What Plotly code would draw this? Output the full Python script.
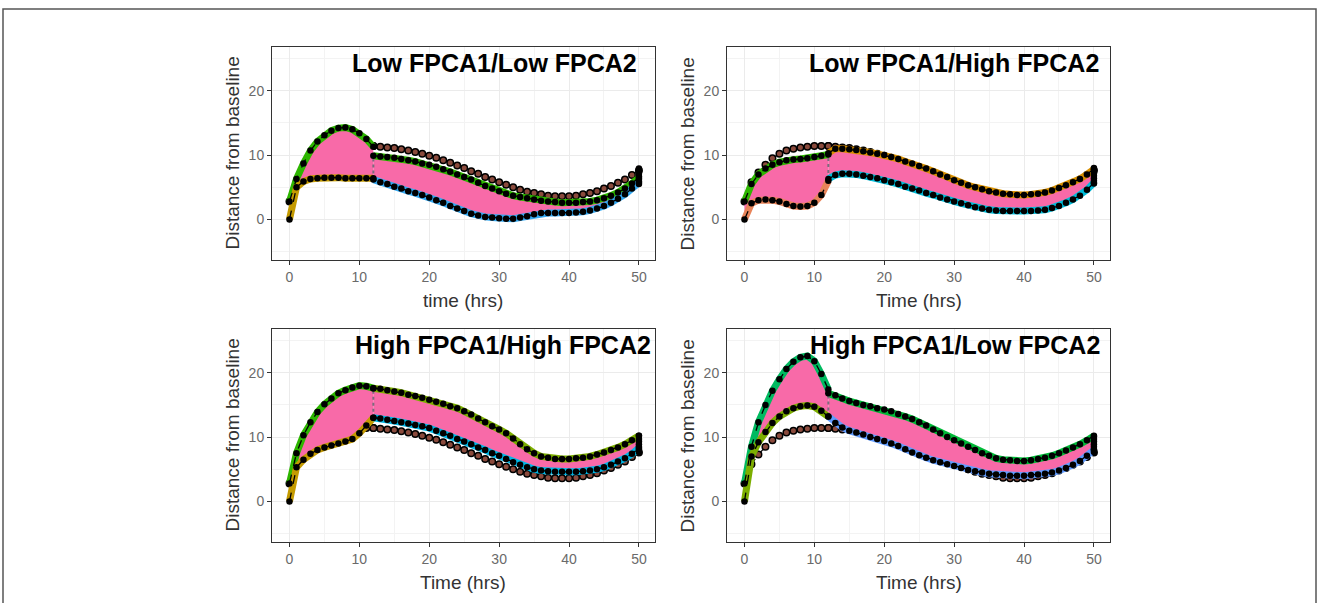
import plotly.graph_objects as go

# ---------------- data ----------------
t_phase1 = list(range(0, 13))          # 0..12 h
t_phase2 = list(range(12, 51))         # 12..50 h

mean_p1 = [2.8, 5.8, 7.3, 8.5, 9.5, 10.2, 10.7, 11.0, 11.2, 11.3, 11.4, 11.4, 11.4]
mean_p2 = [11.4, 11.3, 11.2, 11.1, 10.9, 10.7, 10.5, 10.2, 9.9, 9.6, 9.2, 8.8, 8.4, 8.0, 7.5,
           7.1, 6.6, 6.2, 5.8, 5.4, 5.0, 4.6, 4.3, 4.1, 3.9, 3.7, 3.6, 3.6, 3.6, 3.7, 3.9, 4.1,
           4.4, 4.8, 5.2, 5.7, 6.2, 6.9, 7.6]

# Low FPCA1 / Low FPCA2
ll_up1 = [2.8, 6.3, 8.7, 10.7, 12.1, 13.1, 13.8, 14.2, 14.3, 14.0, 13.4, 12.5, 11.3]
ll_lo1 = [0.0, 5.0, 5.9, 6.3, 6.4, 6.5, 6.5, 6.5, 6.4, 6.4, 6.4, 6.4, 6.4]
ll_up2 = [9.9, 9.8, 9.7, 9.6, 9.4, 9.2, 9.0, 8.7, 8.5, 8.2, 7.8, 7.4, 7.0, 6.6, 6.2, 5.7, 5.2,
          4.8, 4.4, 4.0, 3.7, 3.5, 3.3, 3.1, 2.9, 2.8, 2.7, 2.6, 2.6, 2.6, 2.7, 2.8, 3.0, 3.3,
          3.7, 4.2, 4.8, 5.6, 6.5]
ll_lo2 = [6.2, 5.8, 5.5, 5.1, 4.8, 4.4, 4.1, 3.8, 3.4, 3.0, 2.6, 2.1, 1.7, 1.3, 0.9, 0.6, 0.4,
          0.3, 0.2, 0.1, 0.1, 0.3, 0.5, 0.8, 1.0, 1.0, 1.0, 1.0, 1.0, 1.1, 1.2, 1.4, 1.7, 2.1,
          2.6, 3.2, 3.9, 4.8, 5.7]
ll_end = [5.5, 5.9, 6.3, 6.7, 7.1, 7.5, 7.9]

# Low FPCA1 / High FPCA2
lh_up1 = [2.8, 5.5, 7.0, 7.9, 8.5, 8.9, 9.2, 9.3, 9.4, 9.5, 9.7, 9.9, 10.1]
lh_lo1 = [0.0, 2.5, 3.0, 3.1, 3.0, 2.8, 2.4, 2.1, 2.0, 2.1, 2.6, 3.8, 6.0]
lh_up2 = [10.3, 11.0, 11.0, 10.9, 10.8, 10.6, 10.4, 10.2, 10.0, 9.7, 9.4, 9.0, 8.7, 8.3, 7.9,
          7.5, 7.0, 6.6, 6.1, 5.7, 5.3, 5.0, 4.7, 4.4, 4.2, 4.0, 3.9, 3.8, 3.8, 3.9, 4.0, 4.2,
          4.5, 4.9, 5.3, 5.8, 6.3, 7.0, 7.8]
lh_lo2 = [6.3, 6.9, 7.1, 7.1, 7.0, 6.8, 6.6, 6.4, 6.1, 5.8, 5.5, 5.1, 4.8, 4.5, 4.1, 3.8, 3.4,
          3.1, 2.8, 2.5, 2.2, 1.9, 1.7, 1.5, 1.4, 1.3, 1.3, 1.3, 1.3, 1.3, 1.4, 1.5, 1.8, 2.1,
          2.6, 3.1, 3.7, 4.6, 5.7]
lh_end = [5.6, 6.0, 6.4, 6.8, 7.2, 7.6, 8.0]

# High FPCA1 / High FPCA2
hh_up1 = [2.8, 7.5, 10.3, 12.3, 13.9, 15.1, 16.0, 16.8, 17.3, 17.7, 18.0, 17.9, 17.6]
hh_lo1 = [0.0, 5.3, 6.5, 7.4, 8.0, 8.4, 8.7, 9.0, 9.3, 9.7, 10.6, 11.8, 13.0]
hh_up2 = [17.6, 17.5, 17.3, 17.1, 16.9, 16.6, 16.4, 16.1, 15.8, 15.5, 15.2, 14.8, 14.5, 14.0,
          13.5, 12.9, 12.3, 11.7, 11.2, 10.6, 9.8, 8.9, 8.1, 7.5, 7.0, 6.8, 6.6, 6.6, 6.6, 6.7,
          6.8, 7.0, 7.3, 7.6, 8.0, 8.4, 8.9, 9.5, 10.2]
hh_lo2 = [13.0, 12.9, 12.7, 12.5, 12.3, 12.1, 11.9, 11.7, 11.4, 11.0, 10.6, 10.2, 9.7, 9.3,
          8.9, 8.4, 8.0, 7.5, 7.1, 6.6, 6.1, 5.7, 5.3, 5.0, 4.8, 4.7, 4.6, 4.6, 4.6, 4.6, 4.7,
          4.8, 5.0, 5.3, 5.7, 6.2, 6.7, 7.4, 8.3]
hh_end = [7.7, 8.1, 8.5, 8.9, 9.3, 9.7, 10.2]

# High FPCA1 / Low FPCA2
hl_up1 = [2.8, 8.5, 12.3, 15.0, 17.2, 19.0, 20.6, 21.7, 22.4, 22.6, 21.8, 19.8, 17.4]
hl_lo1 = [0.0, 7.0, 9.2, 10.8, 12.2, 13.2, 14.0, 14.5, 14.8, 14.9, 14.7, 14.1, 13.2]
hl_up2 = [16.8, 16.5, 16.0, 15.6, 15.3, 15.0, 14.8, 14.5, 14.3, 14.0, 13.6, 13.2, 12.8, 12.3,
          11.8, 11.2, 10.6, 10.0, 9.5, 9.0, 8.5, 8.0, 7.5, 7.1, 6.7, 6.5, 6.4, 6.3, 6.3, 6.4,
          6.6, 6.8, 7.1, 7.5, 7.9, 8.4, 8.9, 9.5, 10.2]
hl_lo2 = [13.2, 12.2, 11.5, 11.0, 10.7, 10.4, 10.0, 9.7, 9.4, 9.0, 8.6, 8.1, 7.6, 7.2, 6.8,
          6.4, 6.1, 5.8, 5.5, 5.2, 4.9, 4.7, 4.5, 4.3, 4.2, 4.1, 4.0, 4.0, 4.0, 4.1, 4.2, 4.3,
          4.5, 4.8, 5.2, 5.7, 6.3, 7.1, 8.0]
hl_end = [7.7, 8.1, 8.5, 8.9, 9.3, 9.7, 10.1]

panel_titles = ["Low FPCA1/Low FPCA2", "Low FPCA1/High FPCA2",
                "High FPCA1/High FPCA2", "High FPCA1/Low FPCA2"]
x_titles = ["time (hrs)", "Time (hrs)", "Time (hrs)", "Time (hrs)"]
y_title = "Distance from baseline"
x_ticks = [0, 10, 20, 30, 40, 50]
y_ticks = [0, 10, 20]

# ---------------- styling / layout ----------------
W, H = 1319, 603
FONT = "Liberation Sans, Arial, sans-serif"
PINK = "#F86AA8"
BROWN = "#8a4a3c"

panels = [
    dict(up1=ll_up1, lo1=ll_lo1, up2=ll_up2, lo2=ll_lo2, end=ll_end,
         edge=["#2DB600", "#C49A00", "#2DB600", "#35A8F0"],
         box=(272, 655, 47, 260), title_x=29.4),
    dict(up1=lh_up1, lo1=lh_lo1, up2=lh_up2, lo2=lh_lo2, end=lh_end,
         edge=["#2DB600", "#E8845A", "#D89000", "#00BCD8"],
         box=(727, 1110, 47, 260), title_x=30.0),
    dict(up1=hh_up1, lo1=hh_lo1, up2=hh_up2, lo2=hh_lo2, end=hh_end,
         edge=["#2DB600", "#C49A00", "#7CAE00", "#00B8E7"],
         box=(272, 655, 329, 542), title_x=30.5),
    dict(up1=hl_up1, lo1=hl_lo1, up2=hl_up2, lo2=hl_lo2, end=hl_end,
         edge=["#00BA60", "#7CAE00", "#00BA38", "#619CFF"],
         box=(727, 1110, 329, 542), title_x=30.1),
]

fig = go.Figure()
annotations = []
layout_axes = {}

t_all = t_phase1 + t_phase2
mean_all = mean_p1 + mean_p2

for i, p in enumerate(panels):
    n = "" if i == 0 else str(i + 1)
    xa, ya = "x" + n, "y" + n
    x0, x1, ytop, ybot = p["box"]

    def add(**kw):
        fig.add_trace(go.Scatter(xaxis=xa, yaxis=ya, showlegend=False,
                                 hoverinfo="skip", **kw))

    # mean (brown) curve underneath
    add(x=t_all, y=mean_all, mode="lines+markers",
        line=dict(color="#000000", width=1.3, dash="dash"),
        marker=dict(size=6.5, color=BROWN, line=dict(color="#000000", width=1.5)))

    # coloured bands of curves
    for tt, lo, up in ((t_phase1, p["lo1"], p["up1"]), (t_phase2, p["lo2"], p["up2"])):
        add(x=tt, y=lo, mode="lines", line=dict(width=0, color=PINK))
        add(x=tt, y=up, mode="lines", line=dict(width=0, color=PINK),
            fill="tonexty", fillcolor=PINK)
    # coloured edge curves
    for tt, yy, c in ((t_phase1, p["up1"], p["edge"][0]), (t_phase1, p["lo1"], p["edge"][1]),
                      (t_phase2, p["up2"], p["edge"][2]), (t_phase2, p["lo2"], p["edge"][3])):
        add(x=tt, y=yy, mode="lines", line=dict(color=c, width=7))

    # vertical join of the curves at 12 h
    add(x=[t_phase2[0], t_phase2[0]], y=[p["lo2"][0], p["up2"][0]], mode="lines",
        line=dict(color="#7d6b7d", width=2, dash="dot"))

    # black dotted extreme curves
    for yy in (p["up1"] + p["up2"], p["lo1"] + p["lo2"]):
        add(x=t_all, y=yy, mode="lines+markers",
            line=dict(color="#000000", width=1.3, dash="dash"),
            marker=dict(size=6.5, color="#000000"))

    # end points of all curves at 50 h
    add(x=[t_phase2[-1]] * len(p["end"]), y=p["end"], mode="lines+markers",
        line=dict(color="#000000", width=5), marker=dict(size=6.5, color="#000000"))

    common = dict(showline=True, mirror=True, linecolor="#333333", linewidth=1,
                  showgrid=True, gridcolor="#EBEBEB", gridwidth=1,
                  ticks="outside", ticklen=4, tickcolor="#333333", tickwidth=1,
                  tickfont=dict(family=FONT, size=14, color="#6a6a6a"),
                  zeroline=False)
    layout_axes["xaxis" + n] = dict(
        domain=[x0 / W, x1 / W], anchor=ya, range=[-2.5, 52.3],
        tickmode="array", tickvals=x_ticks, ticktext=[str(v) for v in x_ticks],
        minor=dict(tickvals=[5, 15, 25, 35, 45], showgrid=True,
                   gridcolor="#F3F3F3", gridwidth=1, ticks=""),
        **common)
    layout_axes["yaxis" + n] = dict(
        domain=[1 - ybot / H, 1 - ytop / H], anchor=xa, range=[-6.3, 26.8],
        tickmode="array", tickvals=y_ticks, ticktext=[str(v) for v in y_ticks],
        minor=dict(tickvals=[-5, 5, 15, 25], showgrid=True,
                   gridcolor="#F3F3F3", gridwidth=1, ticks=""),
        **common)

    # panel title
    annotations.append(dict(
        text="<b>" + panel_titles[i] + "</b>", xref=xa, yref="paper",
        x=p["title_x"], y=1 - (ytop + 16) / H, xanchor="center", yanchor="middle",
        showarrow=False, font=dict(family=FONT, size=25, color="#000000")))
    # axis titles
    annotations.append(dict(
        text=x_titles[i], xref="paper", yref="paper",
        x=(x0 + x1) / 2 / W, y=1 - (ybot + 40) / H, xanchor="center", yanchor="middle",
        showarrow=False, font=dict(family=FONT, size=19, color="#333333")))
    annotations.append(dict(
        text=y_title, xref="paper", yref="paper", textangle=-90,
        x=(x0 - 40) / W, y=1 - (ytop + ybot) / 2 / H, xanchor="center", yanchor="middle",
        showarrow=False, font=dict(family=FONT, size=19, color="#333333")))

fig.update_layout(
    width=W, height=H, margin=dict(l=0, r=0, t=0, b=0),
    paper_bgcolor="#FFFFFF", plot_bgcolor="#FFFFFF",
    annotations=annotations,
    shapes=[dict(type="rect", xref="paper", yref="paper",
                 x0=3 / W, x1=1316 / W, y0=-0.1, y1=1 - 9 / H,
                 line=dict(color="#555555", width=1.5), layer="below")],
    **layout_axes,
)

fig.write_html("out.html")
